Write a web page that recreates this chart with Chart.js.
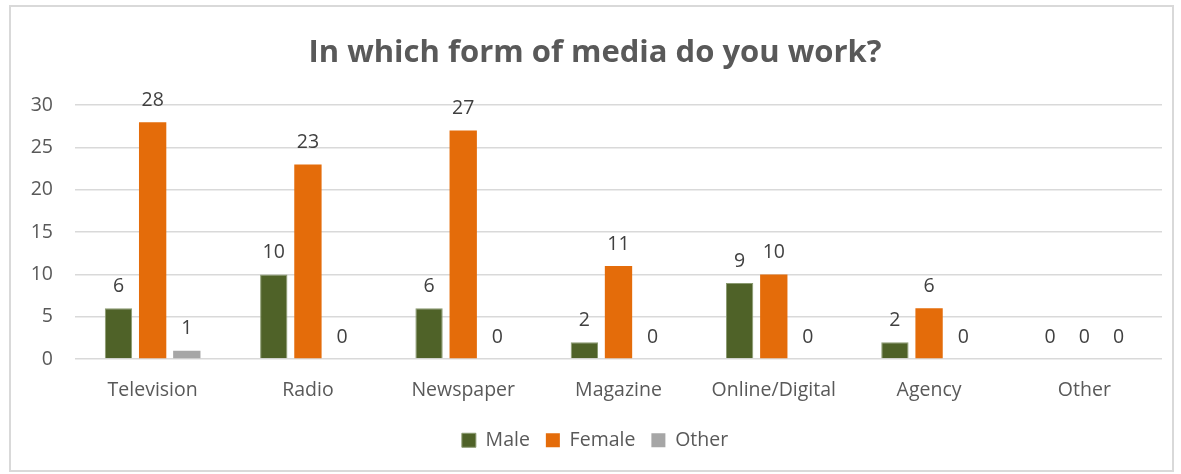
<!DOCTYPE html>
<html>
<head>
<meta charset="utf-8">
<script src="https://cdn.jsdelivr.net/npm/chart.js@4/dist/chart.umd.min.js"></script>
<style>
  body{margin:0;background:#fff;}
  #box{position:absolute;left:9px;top:5px;width:1161px;height:463px;border:2px solid #d9d9d9;background:#fff;}
  canvas{display:block;}
</style>
</head>
<body>
<div id="box"><canvas id="mediaChart" width="1161" height="463"></canvas></div>
<script>
const categories = ['Television','Radio','Newspaper','Magazine','Online/Digital','Agency','Other'];
const male   = [6, 10, 6, 2, 9, 2, 0];
const female = [28, 23, 27, 11, 10, 6, 0];
const other  = [1, 0, 0, 0, 0, 0, 0];
const yTicks = [0, 5, 10, 15, 20, 25, 30];

const FONT = '"Open Sans", sans-serif';

// draws the value above each bar
const barValues = {
  id: 'barValues',
  afterDatasetsDraw(chart){
    const ctx = chart.ctx;
    ctx.save();
    ctx.font = '19.5px ' + FONT;
    ctx.fillStyle = '#404040';
    ctx.textAlign = 'center';
    ctx.textBaseline = 'bottom';
    chart.data.datasets.forEach((ds, i) => {
      chart.getDatasetMeta(i).data.forEach((bar, j) => {
        ctx.fillText(ds.data[j], bar.x, bar.y - 12);
      });
    });
    ctx.restore();
  }
};

new Chart(document.getElementById('mediaChart').getContext('2d'), {
  type: 'bar',
  data: {
    labels: categories,
    datasets: [
      { label: 'Male', data: male, backgroundColor: '#4f6228', borderColor:'#8a9a70', borderWidth:1 },
      { label: 'Female', data: female, backgroundColor: '#e46c0a' },
      { label: 'Other', data: other, backgroundColor: '#a6a6a6' }
    ]
  },
  options: {
    responsive: false,
    animation: false,
    layout: { padding: { left: 17, right: 10, top: 10, bottom: 10 } },
    datasets: { bar: { categoryPercentage: 0.66, barPercentage: 0.8 } },
    plugins: {
      title: {
        display: true,
        text: 'In which form of media do you work?',
        color: '#595959',
        font: { family: FONT, size: 31, weight: 'bold' },
        padding: { top: 18, bottom: 33 }
      },
      legend: {
        position: 'bottom',
        labels: {
          color: '#595959',
          font: { family: FONT, size: 19.5 },
          boxWidth: 14, boxHeight: 14, padding: 16
        }
      },
      tooltip: { enabled: false }
    },
    scales: {
      x: {
        grid: { display: false },
        border: { display: false },
        ticks: { color: '#595959', font: { family: FONT, size: 19.5 }, padding: 12 }
      },
      y: {
        min: 0, max: 30,
        afterBuildTicks: (axis) => { axis.ticks = yTicks.map(v => ({ value: v })); },
        afterFit: (axis) => { axis.width = 47; },
        grid: { color: '#d9d9d9', lineWidth: 1.5, drawTicks: false },
        border: { display: false },
        ticks: { color: '#595959', font: { family: FONT, size: 19.5 }, padding: 22 }
      }
    }
  },
  plugins: [barValues]
});
</script>
</body>
</html>
